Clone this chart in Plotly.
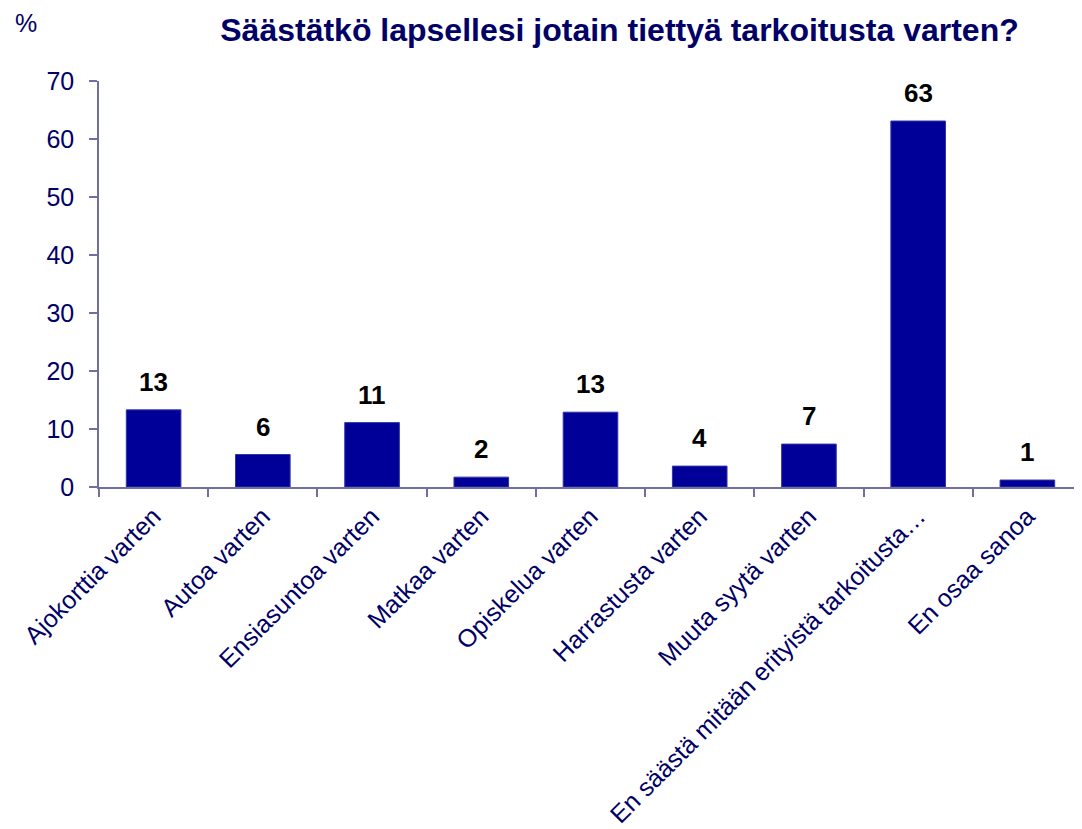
import plotly.graph_objects as go

categories = [
    "Ajokorttia varten",
    "Autoa varten",
    "Ensiasuntoa varten",
    "Matkaa varten",
    "Opiskelua varten",
    "Harrastusta varten",
    "Muuta syytä varten",
    "En säästä mitään erityistä tarkoitusta…",
    "En osaa sanoa",
]
values = [13.3, 5.6, 11.1, 1.7, 12.9, 3.6, 7.4, 63.1, 1.2]
labels = ["13", "6", "11", "2", "13", "4", "7", "63", "1"]
y_ticks = [0, 10, 20, 30, 40, 50, 60, 70]

NAVY = "#000066"
BAR = "#000099"
AXIS = "#6f6fa0"
FONT = "Arial, Liberation Sans, sans-serif"

W, H = 1074, 821
L, T, B = 91, 73, 342

fig = go.Figure()
fig.add_trace(go.Bar(
    x=categories, y=values,
    marker=dict(color=BAR, line=dict(color="#3333aa", width=1)),
    width=0.5,
    hoverinfo="skip",
))

for c, v, t in zip(categories, values, labels):
    fig.add_annotation(
        x=c, y=v, text=f"<b>{t}</b>", showarrow=False,
        yanchor="bottom", yshift=11,
        font=dict(family=FONT, size=26, color="#000000"),
    )

plot_h = H - T - B
plot_w = W - L
fig.add_annotation(
    xref="paper", yref="paper",
    x=(18 - L) / plot_w, y=1 + T / plot_h,
    xanchor="center", yanchor="top", borderpad=0,
    text="%", showarrow=False, font=dict(family=FONT, size=25, color=NAVY),
)

fig.update_layout(
    width=W, height=H,
    margin=dict(l=L, r=0, t=T, b=B, autoexpand=False),
    paper_bgcolor="white", plot_bgcolor="white",
    showlegend=False,
    title=dict(
        text="<b>Säästätkö lapsellesi jotain tiettyä tarkoitusta varten?</b>",
        x=611.5 / W, xref="container", xanchor="center",
        y=1 - 22 / H, yref="container", yanchor="middle",
        font=dict(family=FONT, size=32, color=NAVY),
    ),
    xaxis=dict(
        type="category", automargin=False,
        showline=True, linecolor=AXIS, linewidth=1.5,
        ticks="outside", tickson="boundaries", ticklen=8, tickcolor=AXIS, tickwidth=1.5,
        tickangle=-45,
        tickfont=dict(family=FONT, size=25, color=NAVY),
        showgrid=False, zeroline=False,
        range=[-0.5, 8.5],
        ticklabelstandoff=3,
    ),
    yaxis=dict(
        range=[0, 70], tickvals=y_ticks, automargin=False,
        showline=True, linecolor=AXIS, linewidth=1.5,
        ticks="outside", ticklen=8, tickcolor=AXIS, tickwidth=1.5,
        tickfont=dict(family=FONT, size=25, color=NAVY),
        showgrid=False, zeroline=False,
        ticklabelstandoff=10,
    ),
)

fig.write_html("out.html")
